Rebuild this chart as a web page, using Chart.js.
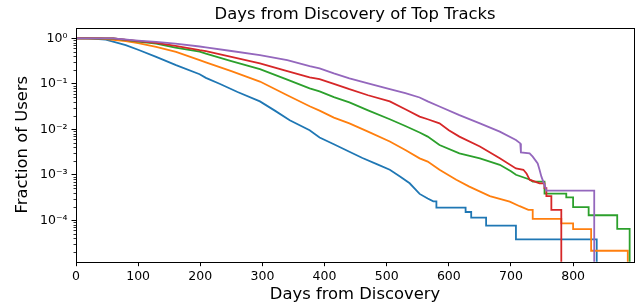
<!DOCTYPE html>
<html><head><meta charset="utf-8">
<script src="https://cdn.jsdelivr.net/npm/chart.js@4.4.0/dist/chart.umd.min.js"></script>
<style>html,body{margin:0;padding:0;background:#fff;}</style>
</head><body>
<canvas id="c" width="640" height="306"></canvas>
<script>
const titleText = 'Days from Discovery of Top Tracks';
const xLabel = 'Days from Discovery';
const yLabel = 'Fraction of Users';
const xTicks = [0, 100, 200, 300, 400, 500, 600, 700, 800];
const xMax = 898;
const yMin = 1.23e-5;
const yMax = 1.71;
const yMajorTicks = [1e-5, 1e-4, 1e-3, 1e-2, 1e-1, 1];
const yMinorMultipliers = [2, 3, 4, 5, 6, 7, 8, 9];
const seriesColors = ['#1f77b4', '#ff7f0e', '#2ca02c', '#d62728', '#9467bd'];

const s1Days = [0,20,48,80,100,129,161,199,209,231,260,296,320,344,376,392,415,440,461,485,505,522,537,553,566,575,580,580,627,627,636,636,660,660,708,708,838,838];
const s1Frac = [1.0,0.995,0.93,0.71,0.56,0.39,0.257,0.162,0.135,0.1,0.066,0.041,0.0257,0.0158,0.0095,0.0066,0.0047,0.0032,0.00234,0.0017,0.00129,0.00091,0.00065,0.00038,0.0003,0.00026,0.00026,0.00019,0.00019,0.000152,0.000152,0.000114,0.000114,0.000076,0.000076,0.000038,0.000038,0];

const s2Days = [0,40,80,100,129,161,199,209,250,296,340,376,392,415,440,470,505,530,553,566,585,612,633,666,698,714,728,735,735,781,781,800,800,829,829,888,888];
const s2Frac = [1.0,0.99,0.87,0.78,0.65,0.50,0.33,0.295,0.19,0.112,0.056,0.032,0.0257,0.018,0.0135,0.0089,0.0054,0.0035,0.0023,0.00195,0.00129,0.00078,0.00055,0.00034,0.000257,0.000204,0.00017,0.00017,0.000107,0.000107,0.0000857,0.0000857,0.0000642,0.0000642,0.0000214,0.0000214,0];

const s3Days = [0,60,100,129,160,199,209,250,296,340,376,392,415,440,470,505,530,553,566,585,617,650,682,700,708,730,735,754,754,789,789,800,800,825,825,871,871,891,891];
const s3Frac = [1.0,0.99,0.85,0.76,0.62,0.51,0.46,0.316,0.209,0.123,0.079,0.068,0.051,0.039,0.026,0.0166,0.0118,0.0085,0.0069,0.0045,0.00295,0.00229,0.00166,0.0012,0.001,0.00079,0.00071,0.00071,0.000387,0.000387,0.00032,0.00032,0.000194,0.000194,0.000129,0.000129,0.0000645,0.0000645,0];

const s4Days = [0,60,100,129,160,199,209,250,296,340,376,392,415,440,470,505,530,553,566,585,600,617,650,682,708,720,725,730,746,754,754,757,757,765,765,781,781];
const s4Frac = [1.0,0.995,0.87,0.79,0.68,0.55,0.525,0.39,0.282,0.19,0.138,0.126,0.1,0.076,0.056,0.041,0.0275,0.019,0.0166,0.0135,0.0095,0.0069,0.0042,0.0023,0.00138,0.00129,0.00107,0.00078,0.00065,0.00065,0.00051,0.00051,0.00034,0.00034,0.00017,0.00017,0];

const s5Days = [0,60,100,129,160,199,209,250,296,340,376,392,415,440,470,505,530,553,566,585,617,650,682,708,715,716,730,735,743,746,749,754,757,834,834];
const s5Frac = [1.0,0.995,0.89,0.83,0.76,0.66,0.63,0.525,0.427,0.33,0.245,0.219,0.17,0.132,0.102,0.076,0.062,0.05,0.041,0.0316,0.0204,0.0135,0.0089,0.0058,0.0049,0.0031,0.00295,0.0025,0.00178,0.00129,0.00091,0.0006,0.00045,0.00045,0];

const allDays = [s1Days, s2Days, s3Days, s4Days, s5Days];
const allFrac = [s1Frac, s2Frac, s3Frac, s4Frac, s5Frac];

const FONT = 'DejaVu Sans';
const isMajor = v => Math.abs(Math.log10(v) - Math.round(Math.log10(v))) < 1e-9;
const supMap = {'-':'\u207B','0':'\u2070','1':'\u00B9','2':'\u00B2','3':'\u00B3','4':'\u2074','5':'\u2075','6':'\u2076','7':'\u2077','8':'\u2078','9':'\u2079'};
const fmtPow = v => '10' + String(Math.round(Math.log10(v))).split('').map(c => supMap[c]).join('');

const yTickValues = [];
yMajorTicks.forEach(m => {
  if (m >= yMin && m <= yMax) yTickValues.push(m);
  yMinorMultipliers.forEach(k => { const v = m * k; if (v >= yMin && v <= yMax) yTickValues.push(v); });
});
yTickValues.sort((a, b) => a - b);

// zero fractions are drawn down past the bottom of the log axis (clipped)
const datasets = allDays.map((days, i) => ({
  data: days.map((d, j) => ({x: d, y: allFrac[i][j] > 0 ? allFrac[i][j] : 1e-8})),
  borderColor: seriesColors[i],
  backgroundColor: seriesColors[i],
  borderWidth: 1.8,
  pointRadius: 0,
  tension: 0,
  fill: false,
  order: 5 - i
}));

const framePlugin = {
  id: 'frame',
  afterDatasetsDraw(chart) {
    const {ctx, chartArea: a, scales} = chart;
    ctx.save();
    ctx.strokeStyle = '#000';
    ctx.lineWidth = 0.8;
    scales.y.ticks.forEach(t => {
      if (!isMajor(t.value)) {
        const y = Math.round(scales.y.getPixelForValue(t.value)) + 0.5;
        ctx.beginPath(); ctx.moveTo(a.left, y); ctx.lineTo(a.left - 2.5, y); ctx.stroke();
      }
    });
    ctx.lineWidth = 1;
    ctx.strokeRect(Math.round(a.left) + 0.5, Math.round(a.top) + 0.5, Math.round(a.right - a.left), Math.round(a.bottom - a.top));
    ctx.restore();
  }
};

new Chart(document.getElementById('c'), {
  type: 'line',
  data: {datasets},
  plugins: [framePlugin],
  options: {
    responsive: false,
    animation: false,
    devicePixelRatio: 1,
    layout: {padding: {left: 0, right: 6, top: 0, bottom: 0}},
    plugins: {
      legend: {display: false},
      tooltip: {enabled: false},
      title: {display: true, text: titleText, fullSize: false, color: '#000',
        font: {family: FONT, size: 16.4, weight: 'normal'}, padding: {top: 5, bottom: 3}}
    },
    scales: {
      x: {
        type: 'linear', min: 0, max: xMax,
        afterFit(s) { s.height = 44.3; s.paddingRight = 0; s.paddingLeft = 0; },
        afterBuildTicks(s) { s.ticks = xTicks.map(v => ({value: v})); },
        ticks: {autoSkip: false, color: '#000', maxRotation: 0,
          font: {family: FONT, size: 12.5}, padding: 3},
        grid: {display: true, drawOnChartArea: false, tickLength: 4.5, tickColor: '#000', tickWidth: 1},
        border: {display: false},
        title: {display: true, text: xLabel, color: '#000', font: {family: FONT, size: 16.4}, padding: {top: 0, bottom: 1}}
      },
      y: {
        type: 'logarithmic', min: yMin, max: yMax,
        afterFit(s) { s.width = 76; },
        afterBuildTicks(s) { s.ticks = yTickValues.map(v => ({value: v})); },
        ticks: {autoSkip: false, color: '#000', font: {family: FONT, size: 12.5}, padding: 4,
          callback: v => (isMajor(v) ? fmtPow(v) : '')},
        grid: {display: true, drawOnChartArea: false, tickLength: 4.5, tickWidth: 1,
          tickColor: ctx => (ctx.tick && isMajor(ctx.tick.value) ? '#000' : 'rgba(0,0,0,0)')},
        border: {display: false},
        title: {display: true, text: yLabel, color: '#000', font: {family: FONT, size: 16.4}, padding: {top: 12.7, bottom: 0}}
      }
    }
  }
});
</script>
</body></html>
